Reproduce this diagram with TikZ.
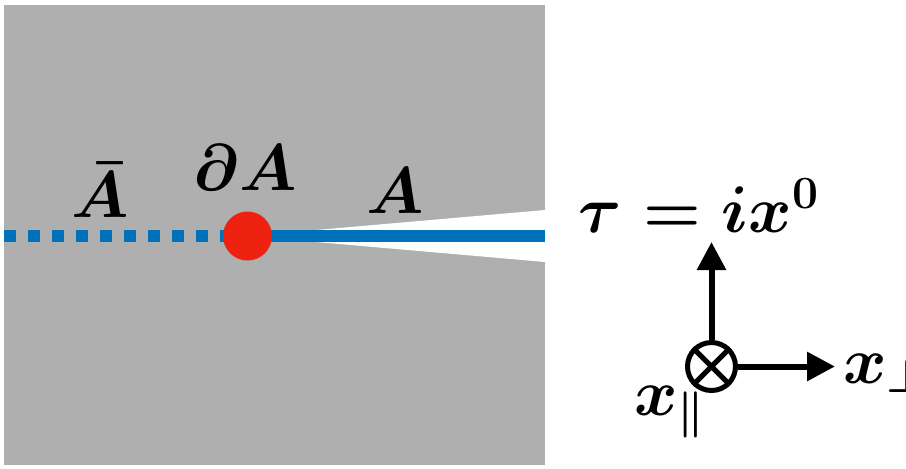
\RequirePackage{fix-cm}
\documentclass[tikz,border=0pt]{standalone}
\usepackage{amsmath, amssymb}
\usepackage{xcolor}
\usepackage{tikz}
\usetikzlibrary{arrows.meta, calc}

\definecolor{planegray}{HTML}{AFAFAF}
\definecolor{cutblue}{HTML}{0072BC}
\definecolor{entred}{HTML}{EE2211}

\begin{document}
\begin{tikzpicture}[
    x=0.5pt, y=-0.5pt,
    lbl/.style={inner sep=0pt, anchor=base, font=\fontsize{33}{40}\selectfont\boldmath},
    cut/.style={line width=6pt, draw=cutblue},
    axis/.style={line width=3pt, -{Triangle[length=14pt, width=14pt]}}
]
\useasboundingbox (0,0) rectangle (906,468);

% Plane with the slit along A
\fill[planegray] (4,5) rectangle (545,465);
\coordinate (bdy) at (247.5,236);
\coordinate (cutL) at (4,236);
\coordinate (cutR) at (545,236);
\fill[white] (bdy) -- (545,210) -- (545,262) -- cycle;

% Subsystems and entangling point
\draw[cut, dash pattern=on 6pt off 6pt] (cutL) -- (bdy);
\draw[cut] (bdy) -- (cutR);
\node[circle, fill=entred, minimum size=24.5pt, inner sep=0pt] (dot) at (bdy) {};

\node[lbl] (Abar) at (100,217) {$\bar{A}$};
\node[lbl] (dA) at (245,190) {$\partial A$};
\node[lbl] (Aside) at (395,213) {$A$};

% Coordinate axes
\node[circle, draw, line width=2.5pt, minimum size=24pt, inner sep=0pt] (into) at (711.5,366.5) {};
\draw[line width=2.5pt] (into.north west) -- (into.south east) (into.north east) -- (into.south west);
\coordinate (tautip) at (711.5,242);
\coordinate (perptip) at (835,366.5);
\draw[axis] (into.north) -- (tautip);
\draw[axis] (into.east) -- (perptip);

\node[lbl] (tau) at (699,232) {$\tau = i x^0$};
\node[lbl, anchor=base west] (xperp) at (843,383) {$x_\perp$};
\node[lbl] (xpar) at (670,415) {$x_\parallel$};

\end{tikzpicture}
\end{document}
